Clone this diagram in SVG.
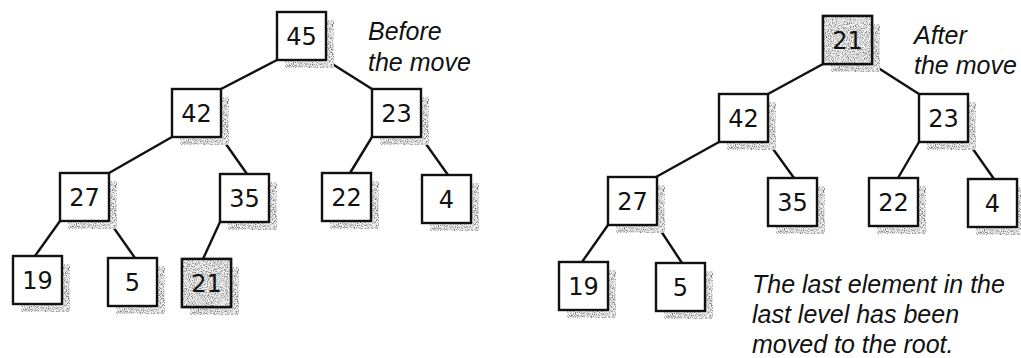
<svg xmlns="http://www.w3.org/2000/svg" width="1021" height="358" viewBox="0 0 1021 358">
  <style>
    .edge { stroke: #111; stroke-width: 2.4; fill: none; stroke-linecap: round; }
    .box { fill: #fff; stroke: #111; stroke-width: 2.4; }
    .box.moved { fill: none; }
    .shade { fill: #fff; filter: url(#grain); }
    .num { font-family: "DejaVu Sans", sans-serif; font-size: 24px; fill: #111; text-anchor: middle; }
    .note { font-family: "Liberation Sans", Arial, sans-serif; font-style: italic; font-size: 25px; fill: #111; }
  </style>
  <defs>
    <!-- stippled gray used for drop shadows and the highlighted node -->
    <filter id="grain" x="0" y="0" width="100%" height="100%" color-interpolation-filters="sRGB">
      <feTurbulence type="fractalNoise" baseFrequency="0.95" numOctaves="2" seed="7" result="noise"/>
      <feColorMatrix in="noise" type="matrix" values="0 0 0 0 0.45  0 0 0 0 0.45  0 0 0 0 0.45  3 0 0 0 -1.3" result="dots"/>
      <feFlood flood-color="#f4f4f4" result="base"/>
      <feMerge result="tex"><feMergeNode in="base"/><feMergeNode in="dots"/></feMerge>
      <feComposite in="tex" in2="SourceGraphic" operator="in"/>
    </filter>
    <rect id="shadow" width="49" height="48" class="shade"/>
  </defs>

  <rect width="1021" height="358" fill="#fff"/>

  <g id="connectors">
    <!-- before -->
    <line class="edge" x1="277" y1="60" x2="221" y2="89"/>
    <line class="edge" x1="326" y1="60" x2="372" y2="89"/>
    <line class="edge" x1="172" y1="137" x2="109" y2="173"/>
    <line class="edge" x1="221" y1="137" x2="247" y2="174"/>
    <line class="edge" x1="372" y1="137" x2="350" y2="173"/>
    <line class="edge" x1="421" y1="137" x2="448" y2="175"/>
    <line class="edge" x1="60" y1="221" x2="35" y2="256"/>
    <line class="edge" x1="109" y1="221" x2="135" y2="258"/>
    <line class="edge" x1="220" y1="222" x2="203" y2="259"/>
    <!-- after -->
    <line class="edge" x1="823" y1="64" x2="768" y2="94"/>
    <line class="edge" x1="872" y1="64" x2="919" y2="94"/>
    <line class="edge" x1="719" y1="142" x2="656" y2="177"/>
    <line class="edge" x1="768" y1="142" x2="794" y2="178"/>
    <line class="edge" x1="919" y1="142" x2="898" y2="178"/>
    <line class="edge" x1="968" y1="142" x2="994" y2="179"/>
    <line class="edge" x1="608" y1="225" x2="582" y2="262"/>
    <line class="edge" x1="657" y1="225" x2="682" y2="263"/>
  </g>

  <!-- heap before the move -->
  <g id="b45"><use href="#shadow" x="285" y="20"/><rect class="box" x="277" y="12" width="49" height="48"/><text class="num" x="301.5" y="45">45</text></g>
  <g id="b42"><use href="#shadow" x="180" y="97"/><rect class="box" x="172" y="89" width="49" height="48"/><text class="num" x="196.5" y="122">42</text></g>
  <g id="b23"><use href="#shadow" x="380" y="97"/><rect class="box" x="372" y="89" width="49" height="48"/><text class="num" x="396.5" y="122">23</text></g>
  <g id="b27"><use href="#shadow" x="68" y="181"/><rect class="box" x="60" y="173" width="49" height="48"/><text class="num" x="84.5" y="206">27</text></g>
  <g id="b35"><use href="#shadow" x="228" y="182"/><rect class="box" x="220" y="174" width="49" height="48"/><text class="num" x="244.5" y="207">35</text></g>
  <g id="b22"><use href="#shadow" x="330" y="181"/><rect class="box" x="322" y="173" width="49" height="48"/><text class="num" x="346.5" y="206">22</text></g>
  <g id="b4"><use href="#shadow" x="430" y="183"/><rect class="box" x="422" y="175" width="49" height="48"/><text class="num" x="446.5" y="208">4</text></g>
  <g id="b19"><use href="#shadow" x="21" y="264"/><rect class="box" x="13" y="256" width="49" height="48"/><text class="num" x="37.5" y="289">19</text></g>
  <g id="b5"><use href="#shadow" x="116" y="266"/><rect class="box" x="108" y="258" width="49" height="48"/><text class="num" x="132.5" y="291">5</text></g>
  <g id="b21"><use href="#shadow" x="190" y="267"/><rect class="box" x="182" y="259" width="49" height="48"/><rect class="shade" x="183" y="260" width="47" height="46"/><rect class="box moved" x="182" y="259" width="49" height="48"/><text class="num" x="206.5" y="292">21</text></g>

  <g id="label-before">
    <text class="note" x="368" y="40">Before</text>
    <text class="note" x="368" y="71">the move</text>
  </g>

  <!-- heap after the move -->
  <g id="a21"><use href="#shadow" x="831" y="24"/><rect class="box" x="823" y="16" width="49" height="48"/><rect class="shade" x="824" y="17" width="47" height="46"/><rect class="box moved" x="823" y="16" width="49" height="48"/><text class="num" x="847.5" y="49">21</text></g>
  <g id="a42"><use href="#shadow" x="727" y="102"/><rect class="box" x="719" y="94" width="49" height="48"/><text class="num" x="743.5" y="127">42</text></g>
  <g id="a23"><use href="#shadow" x="927" y="102"/><rect class="box" x="919" y="94" width="49" height="48"/><text class="num" x="943.5" y="127">23</text></g>
  <g id="a27"><use href="#shadow" x="616" y="185"/><rect class="box" x="608" y="177" width="49" height="48"/><text class="num" x="632.5" y="210">27</text></g>
  <g id="a35"><use href="#shadow" x="776" y="186"/><rect class="box" x="768" y="178" width="49" height="48"/><text class="num" x="792.5" y="211">35</text></g>
  <g id="a22"><use href="#shadow" x="877" y="186"/><rect class="box" x="869" y="178" width="49" height="48"/><text class="num" x="893.5" y="211">22</text></g>
  <g id="a4"><use href="#shadow" x="976" y="187"/><rect class="box" x="968" y="179" width="49" height="48"/><text class="num" x="992.5" y="212">4</text></g>
  <g id="a19"><use href="#shadow" x="567" y="270"/><rect class="box" x="559" y="262" width="49" height="48"/><text class="num" x="583.5" y="295">19</text></g>
  <g id="a5"><use href="#shadow" x="664" y="271"/><rect class="box" x="656" y="263" width="49" height="48"/><text class="num" x="680.5" y="296">5</text></g>

  <g id="label-after">
    <text class="note" x="914" y="44">After</text>
    <text class="note" x="914" y="74">the move</text>
  </g>

  <g id="caption">
    <text class="note" x="752" y="293">The last element in the</text>
    <text class="note" x="752" y="323">last level has been</text>
    <text class="note" x="752" y="353">moved to the root.</text>
  </g>
</svg>
